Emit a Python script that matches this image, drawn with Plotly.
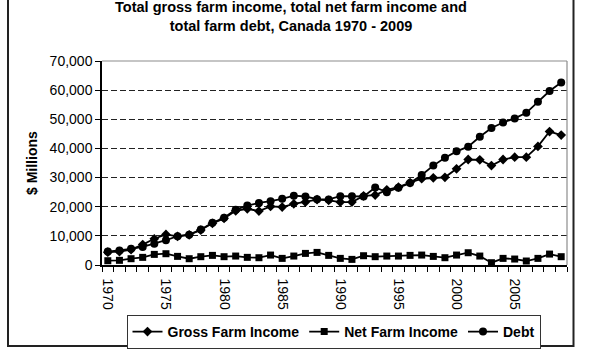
import plotly.graph_objects as go

years = list(range(1970, 2010))
gross = [4400, 4600, 5300, 7000, 9000, 10500, 9800, 10300, 12000, 14300,
         16000, 18600, 19300, 18500, 20100, 19900, 21000, 21600, 22400, 22200,
         21600, 21600, 23700, 24000, 25800, 26700, 28300, 29600, 29900, 30100,
         33000, 36200, 36100, 34100, 36200, 37000, 37000, 40700, 45800, 44600]
net = [1470, 1600, 2160, 2620, 3640, 3870, 2960, 2160, 2850, 3300,
       2850, 3070, 2620, 2500, 3410, 2270, 3070, 3980, 4320, 3300,
       2270, 1930, 3180, 2850, 3070, 3070, 3300, 3410, 2950, 2500,
       3410, 4210, 3070, 790, 2270, 2050, 1370, 2270, 3750, 2850]
debt = [4600, 5000, 5570, 6200, 7300, 8500, 9900, 10400, 12200, 14500,
        16200, 19000, 20400, 21300, 21900, 22700, 23800, 23500, 22600, 22500,
        23600, 23600, 23500, 26600, 25000, 26500, 28100, 30900, 34100, 36800,
        39000, 40600, 44000, 47000, 48900, 50300, 52200, 56000, 59700, 62600]
xtick_vals = [1970, 1975, 1980, 1985, 1990, 1995, 2000, 2005]

FONT = "Liberation Sans, Arial, sans-serif"

fig = go.Figure()
fig.add_trace(go.Scatter(x=years, y=gross, name="Gross Farm Income", mode="lines+markers",
                         line=dict(color="black", width=1.8),
                         marker=dict(symbol="diamond", size=7.5, color="black")))
fig.add_trace(go.Scatter(x=years, y=net, name="Net Farm Income", mode="lines+markers",
                         line=dict(color="black", width=1.8),
                         marker=dict(symbol="square", size=7, color="black")))
fig.add_trace(go.Scatter(x=years, y=debt, name="Debt", mode="lines+markers",
                         line=dict(color="black", width=1.8),
                         marker=dict(symbol="circle", size=8, color="black")))

L, R, T, B = 102, 27, 61, 85
pw = 594 - L - R
ph = 350 - T - B

def px(xpix):
    return (xpix - L) / pw

def py(ypix):
    return (350 - B - ypix) / ph

fig.update_layout(
    width=594, height=350,
    margin=dict(l=L, r=R, t=T, b=B, autoexpand=False),
    paper_bgcolor="white", plot_bgcolor="white",
    font=dict(family=FONT, size=14, color="black"),
    showlegend=True,
    legend=dict(orientation="h", x=px(333.5), xanchor="center", y=py(315), yanchor="top",
                bordercolor="#333333", borderwidth=1, bgcolor="white",
                font=dict(family=FONT, size=14, color="black", weight="bold"),
                itemwidth=30, tracegroupgap=0),
    title=dict(text="Total gross farm income, total net farm income and<br>total farm debt, Canada 1970 - 2009",
               x=291 / 594, xanchor="center", xref="container",
               y=1 - 12 / 350, yanchor="middle", yref="container",
               font=dict(family=FONT, size=14.5, color="black", weight="bold")),
    xaxis=dict(range=[1969.5, 2009.5], tickvals=xtick_vals, ticktext=[str(v) for v in xtick_vals],
               tickangle=90, ticks="", showgrid=False, zeroline=False,
               showline=True, linecolor="black", linewidth=1.5,
               ticklabelstandoff=9, automargin=False,
               tickfont=dict(family=FONT, size=14, color="black"),
               minor=dict(ticks="outside", tick0=1969.5, dtick=1, ticklen=5,
                          tickcolor="black", tickwidth=1, showgrid=False)),
    yaxis=dict(range=[0, 70000], dtick=10000, tickformat=",", ticks="outside", ticklen=5,
               tickcolor="black", showline=True, linecolor="black", linewidth=1.5,
               showgrid=True, gridcolor="#222222", gridwidth=1, griddash="6px,3px",
               zeroline=False, automargin=False,
               tickfont=dict(family=FONT, size=14, color="black")),
    shapes=[
        dict(type="line", xref="paper", yref="paper", x0=0, x1=1, y0=1, y1=1,
             line=dict(color="#8c8c8c", width=1.2), layer="above"),
        dict(type="line", xref="paper", yref="paper", x0=1, x1=1, y0=0, y1=1,
             line=dict(color="#8c8c8c", width=1.2), layer="above"),
        dict(type="rect", xref="paper", yref="paper", x0=px(8), x1=px(573.5),
             y0=py(346), y1=py(-20), line=dict(color="#222222", width=2),
             fillcolor="rgba(0,0,0,0)", layer="above"),
    ],
    annotations=[
        dict(text="$ Millions", xref="paper", yref="paper", x=px(32), y=0.5,
             xanchor="center", yanchor="middle", textangle=-90, showarrow=False,
             font=dict(family=FONT, size=14, color="black", weight="bold")),
    ],
)

fig.write_html("out.html")
